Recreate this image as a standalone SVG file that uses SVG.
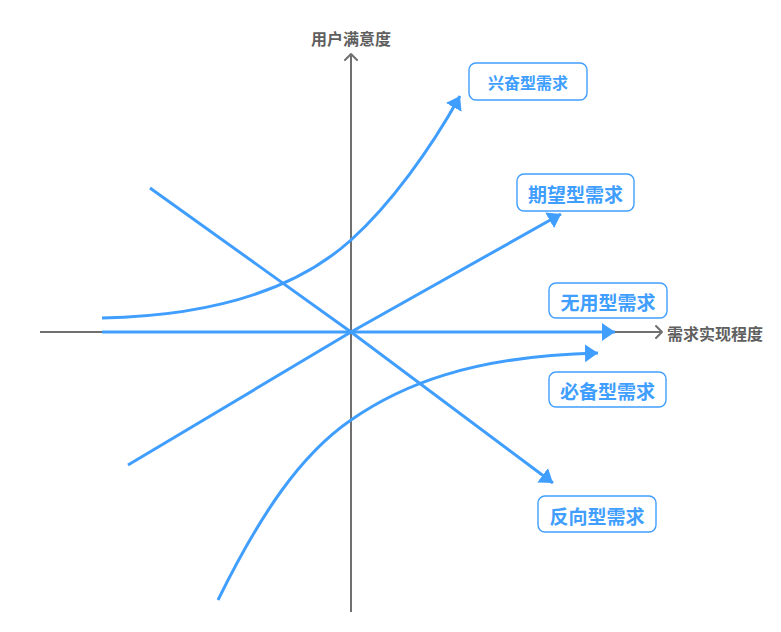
<svg xmlns="http://www.w3.org/2000/svg" width="781" height="632" viewBox="0 0 781 632">
<style>
.axis{stroke:#707070;stroke-width:2;fill:none}
.axhead{stroke:#707070;stroke-width:2;fill:none;stroke-linecap:round;stroke-linejoin:round}
.axlabel{font-family:"Noto Sans CJK SC","Microsoft YaHei",sans-serif;font-size:16px;font-weight:bold;fill:#5f5f5f}
.curve{stroke:#409EFF;stroke-width:3;fill:none;marker-end:url(#ah)}
.box{fill:#ffffff;stroke:#409EFF;stroke-width:1.4}
.lbl{font-family:"Noto Sans CJK SC","Microsoft YaHei",sans-serif;font-weight:bold;fill:#409EFF;text-anchor:middle;dominant-baseline:central}
</style>
<defs>
<marker id="ah" markerUnits="userSpaceOnUse" markerWidth="16" markerHeight="22" viewBox="0 -11 16 22" refX="13" refY="0" orient="auto">
<path d="M0,-9 L13,0 L0,9 Z" fill="#409EFF"/>
</marker>
</defs>
<rect width="781" height="632" fill="#ffffff"/>
<g id="axes">
<line class="axis" x1="351" y1="612" x2="351" y2="54"/>
<polyline class="axhead" points="345,60 351,54 357,60"/>
<line class="axis" x1="40" y1="332" x2="662" y2="332"/>
<polyline class="axhead" points="656,326 662,332 656,338"/>
<text class="axlabel" x="351" y="38" text-anchor="middle" dominant-baseline="central">用户满意度</text>
<text class="axlabel" x="667" y="333" dominant-baseline="central">需求实现程度</text>
</g>
<g id="connectors">
<path class="curve" d="M102,318 C200,316 290,295 351,240 C390,205 430,150 460,96"/>
<path class="curve" d="M128,465 L351,332 L561,214"/>
<path class="curve" d="M102,332 L615,332"/>
<path class="curve" d="M218,600 C260,515 300,455 351,420 C400,386 470,356 598,353"/>
<path class="curve" d="M150,188 L351,332 L553,483"/>
</g>
<g id="n-xingfen">
<rect class="box" x="469" y="63" width="118" height="37" rx="7"/>
<text class="lbl" x="528" y="82" font-size="16">兴奋型需求</text>
</g>
<g id="n-qiwang">
<rect class="box" x="517" y="174" width="117" height="37" rx="7"/>
<text class="lbl" x="575.5" y="193" font-size="19">期望型需求</text>
</g>
<g id="n-wuyong">
<rect class="box" x="549" y="283" width="118" height="35" rx="7"/>
<text class="lbl" x="608" y="301" font-size="19">无用型需求</text>
</g>
<g id="n-bibei">
<rect class="box" x="549" y="372" width="117" height="35" rx="7"/>
<text class="lbl" x="607.5" y="390" font-size="19">必备型需求</text>
</g>
<g id="n-fanxiang">
<rect class="box" x="538" y="496" width="118" height="36" rx="7"/>
<text class="lbl" x="597" y="515" font-size="19">反向型需求</text>
</g>
</svg>
